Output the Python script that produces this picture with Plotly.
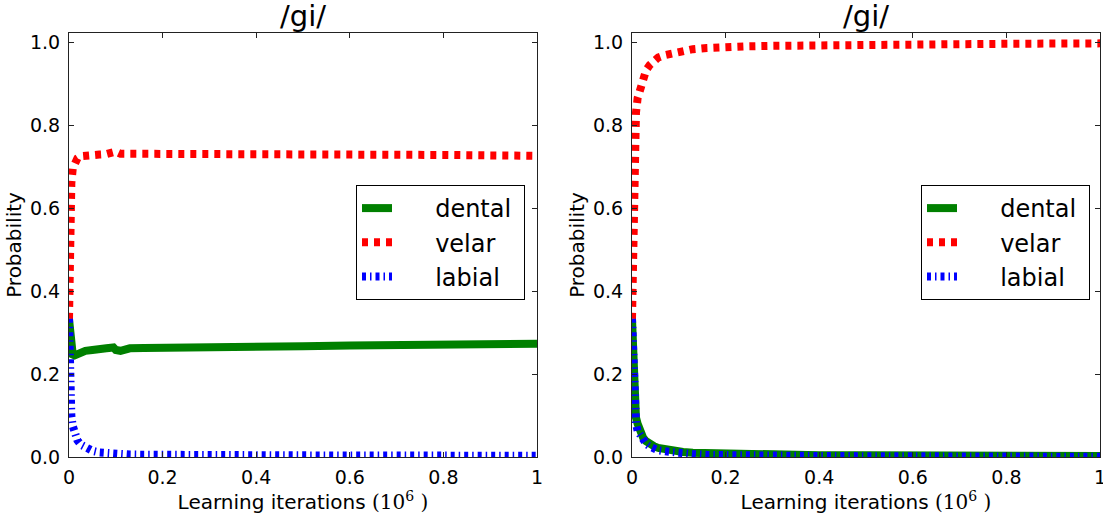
import plotly.graph_objects as go

# ---------------- data ----------------
left_x = [0, 0.002, 0.005, 0.008, 0.012, 0.018, 0.025, 0.035, 0.05, 0.065, 0.08, 0.095,
          0.1, 0.11, 0.13, 0.16, 0.2, 0.3, 0.4, 0.5, 0.6, 0.7, 0.8, 0.9, 1.0]
left_velar = [0.333, 0.55, 0.66, 0.695, 0.71, 0.72, 0.725, 0.727, 0.728, 0.729, 0.73, 0.731,
              0.736, 0.731, 0.731, 0.731, 0.732, 0.732, 0.731, 0.731, 0.73, 0.729, 0.728, 0.727, 0.726]
left_dental = [0.333, 0.29, 0.255, 0.247, 0.245, 0.248, 0.252, 0.256, 0.258, 0.258, 0.262, 0.264,
               0.258, 0.256, 0.262, 0.263, 0.264, 0.266, 0.266, 0.267, 0.269, 0.27, 0.271, 0.272, 0.273]
left_labial = [0.333, 0.16, 0.1, 0.075, 0.055, 0.04, 0.03, 0.022, 0.015, 0.011, 0.009, 0.008,
               0.0075, 0.007, 0.006, 0.0055, 0.005, 0.0045, 0.004, 0.004, 0.0035, 0.0035, 0.003, 0.003, 0.003]

right_x = [0, 0.002, 0.004, 0.006, 0.0085, 0.012, 0.017, 0.024, 0.03, 0.038, 0.047, 0.056, 0.068,
           0.081, 0.095, 0.109, 0.13, 0.16, 0.2, 0.25, 0.3, 0.4, 0.5, 0.6, 0.7, 0.8, 0.9, 1.0]
right_velar = [0.333, 0.55, 0.7, 0.78, 0.83, 0.865, 0.889, 0.916, 0.932, 0.945, 0.955, 0.963, 0.968,
               0.972, 0.976, 0.98, 0.983, 0.986, 0.989, 0.99, 0.991, 0.993, 0.994, 0.995, 0.995, 0.996, 0.996, 0.997]
right_dental = [0.333, 0.23, 0.155, 0.12, 0.095, 0.08, 0.062, 0.046, 0.038, 0.031, 0.026, 0.022, 0.019,
                0.016, 0.014, 0.012, 0.01, 0.009, 0.007, 0.006, 0.0055, 0.0045, 0.004, 0.0035, 0.0035, 0.003, 0.003, 0.0025]
right_labial = [0.333, 0.22, 0.145, 0.105, 0.08, 0.063, 0.053, 0.04, 0.032, 0.025, 0.02, 0.016, 0.014,
                0.012, 0.01, 0.008, 0.007, 0.005, 0.004, 0.004, 0.0035, 0.0025, 0.002, 0.0015, 0.0015, 0.001, 0.001, 0.0005]

series_names = ["dental", "velar", "labial"]
x_ticks = [0, 0.2, 0.4, 0.6, 0.8, 1.0]
x_tick_labels = ["0", "0.2", "0.4", "0.6", "0.8", "1"]
y_ticks = [0.0, 0.2, 0.4, 0.6, 0.8, 1.0]
y_tick_labels = ["0.0", "0.2", "0.4", "0.6", "0.8", "1.0"]
panel_title = "/gi/"

# ---------------- styles ----------------
FONT = "DejaVu Sans"
styles = {
    "dental": dict(color="green", width=8, dash="solid"),
    "velar": dict(color="red", width=8, dash="6px,6px"),
    "labial": dict(color="blue", width=8, dash="4px,4px,1.5px,4px"),
}

W, H = 1103, 515
def px_x(p):
    return p / W
def px_y(p):
    return 1 - p / H

left_dom = [px_x(69), px_x(537)]
right_dom = [px_x(632), px_x(1100)]
y_dom = [px_y(457), px_y(33)]

fig = go.Figure()

panels = [
    (left_x, {"dental": left_dental, "velar": left_velar, "labial": left_labial}, "x", "y", "legend"),
    (right_x, {"dental": right_dental, "velar": right_velar, "labial": right_labial}, "x2", "y2", "legend2"),
]
for xs, ys, xa, ya, lg in panels:
    for name in series_names:
        fig.add_trace(go.Scatter(
            x=xs, y=ys[name], mode="lines", name="\u00a0" * 5 + name + "\u00a0",
            line=styles[name], xaxis=xa, yaxis=ya, legend=lg,
        ))

xlabel = ("Learning iterations <span style='font-family:DejaVu Serif'>(10<sup>6</sup> )</span>")

axis_common = dict(
    showgrid=False, zeroline=False, showline=True, linecolor="#222", linewidth=1,
    mirror="ticks", ticks="inside", ticklen=5, tickwidth=1, tickcolor="#222",
    tickfont=dict(family=FONT, size=19, color="black"), automargin=False,
    ticklabeloverflow="allow",
)

def xaxis(dom, anchor):
    return dict(axis_common, domain=dom, anchor=anchor, range=[0, 1],
                tickvals=x_ticks, ticktext=x_tick_labels, ticklabelstandoff=3,
                title=dict(text=xlabel, font=dict(family=FONT, size=20, color="black"), standoff=2))

def yaxis(anchor):
    return dict(axis_common, domain=y_dom, anchor=anchor, range=[0, 1.022],
                tickvals=y_ticks, ticktext=y_tick_labels, ticklabelstandoff=4,
                title=dict(text="Probability", font=dict(family=FONT, size=20, color="black"), standoff=2))

legend_common = dict(
    bgcolor="white", bordercolor="black", borderwidth=1,
    font=dict(family=FONT, size=24, color="black"),
    xanchor="right", yanchor="top", tracegroupgap=0,
)

fig.update_layout(
    width=W, height=H,
    margin=dict(l=0, r=0, t=0, b=0),
    paper_bgcolor="white", plot_bgcolor="white",
    xaxis=xaxis(left_dom, "y"),
    yaxis=yaxis("x"),
    xaxis2=xaxis(right_dom, "y2"),
    yaxis2=yaxis("x2"),
    legend=dict(legend_common, x=px_x(525), y=px_y(185)),
    legend2=dict(legend_common, x=px_x(1090), y=px_y(185)),
    annotations=[
        dict(text=panel_title, x=sum(left_dom) / 2, y=px_y(35), xref="paper", yref="paper",
             xanchor="center", yanchor="bottom", showarrow=False,
             font=dict(family=FONT, size=29, color="black")),
        dict(text=panel_title, x=sum(right_dom) / 2, y=px_y(35), xref="paper", yref="paper",
             xanchor="center", yanchor="bottom", showarrow=False,
             font=dict(family=FONT, size=29, color="black")),
    ],
)

fig.write_html("out.html", config={"displayModeBar": False},
               post_script="document.body.style.margin='0';document.body.style.overflow='hidden';")
